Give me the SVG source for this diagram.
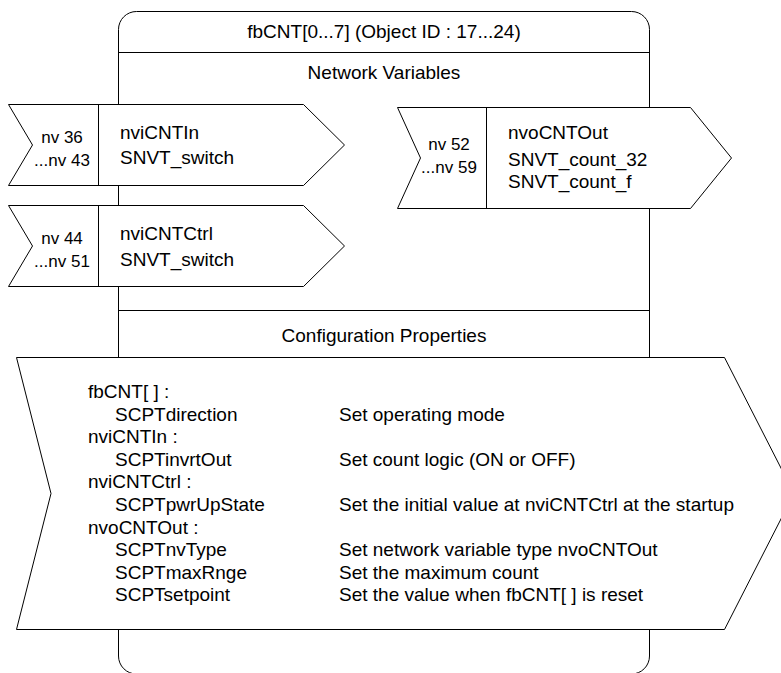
<svg xmlns="http://www.w3.org/2000/svg" width="781" height="673" viewBox="0 0 781 673">
<style>
.s{fill:#fff;stroke:#000;stroke-width:1}
.l{fill:none;stroke:#000;stroke-width:1}
.t{font-family:"Liberation Sans",Arial,Helvetica,sans-serif;font-size:19px;fill:#000}
.nv{font-size:17px;text-anchor:middle}
.m{text-anchor:middle}
</style>
<rect width="781" height="673" fill="#fff"/>
<g id="fbCNT">
<rect class="s" x="118.5" y="11.5" width="531" height="662.5" rx="18" ry="18"/>
<line class="l" x1="118.5" y1="52.5" x2="649.5" y2="52.5"/>
<line class="l" x1="118.5" y1="310.5" x2="649.5" y2="310.5"/>
<text class="t m" x="384" y="38">fbCNT[0...7] (Object ID : 17...24)</text>
<text class="t m" x="384" y="79">Network Variables</text>
<text class="t m" x="384" y="342">Configuration Properties</text>
</g>
<g id="nviCNTIn">
<polygon class="s" points="8.5,104.5 303.5,104.5 344.5,145 303.5,185.5 8.5,185.5 32.5,145"/>
<line class="l" x1="98.5" y1="104.5" x2="98.5" y2="185.5"/>
<text class="t nv" x="62" y="142.5">nv 36</text>
<text class="t nv" x="62" y="166">...nv 43</text>
<text class="t" x="120" y="138.5">nviCNTIn</text>
<text class="t" x="120" y="164">SNVT_switch</text>
</g>
<g id="nviCNTCtrl">
<polygon class="s" points="8.5,205.5 303.5,205.5 344.5,246 303.5,286.5 8.5,286.5 32.5,246"/>
<line class="l" x1="98.5" y1="205.5" x2="98.5" y2="286.5"/>
<text class="t nv" x="62" y="243.5">nv 44</text>
<text class="t nv" x="62" y="267">...nv 51</text>
<text class="t" x="120" y="240">nviCNTCtrl</text>
<text class="t" x="120" y="266">SNVT_switch</text>
</g>
<g id="nvoCNTOut">
<polygon class="s" points="397.5,107.5 690.5,107.5 731.5,158 690.5,208.5 397.5,208.5 420.5,158"/>
<line class="l" x1="486.5" y1="107.5" x2="486.5" y2="208.5"/>
<text class="t nv" x="449" y="150">nv 52</text>
<text class="t nv" x="449" y="173">...nv 59</text>
<text class="t" x="508" y="139">nvoCNTOut</text>
<text class="t" x="508" y="166">SNVT_count_32</text>
<text class="t" x="508" y="188">SNVT_count_f</text>
</g>
<g id="config">
<polygon class="s" points="16.5,357.5 724.5,357.5 794,493.5 724.5,629.5 16.5,629.5 51,493.5"/>
<text class="t" x="88" y="398">fbCNT[ ] :</text>
<text class="t" x="115" y="420.6">SCPTdirection</text>
<text class="t" x="339" y="420.6">Set operating mode</text>
<text class="t" x="88" y="443.2">nviCNTIn :</text>
<text class="t" x="115" y="465.8">SCPTinvrtOut</text>
<text class="t" x="339" y="465.8">Set count logic (ON or OFF)</text>
<text class="t" x="88" y="488.4">nviCNTCtrl :</text>
<text class="t" x="115" y="511">SCPTpwrUpState</text>
<text class="t" x="339" y="511">Set the initial value at nviCNTCtrl at the startup</text>
<text class="t" x="88" y="533.6">nvoCNTOut :</text>
<text class="t" x="115" y="556.2">SCPTnvType</text>
<text class="t" x="339" y="556.2">Set network variable type nvoCNTOut</text>
<text class="t" x="115" y="578.8">SCPTmaxRnge</text>
<text class="t" x="339" y="578.8">Set the maximum count</text>
<text class="t" x="115" y="601.4">SCPTsetpoint</text>
<text class="t" x="339" y="601.4">Set the value when fbCNT[ ] is reset</text>
</g>
<g id="connectors"/>
</svg>
